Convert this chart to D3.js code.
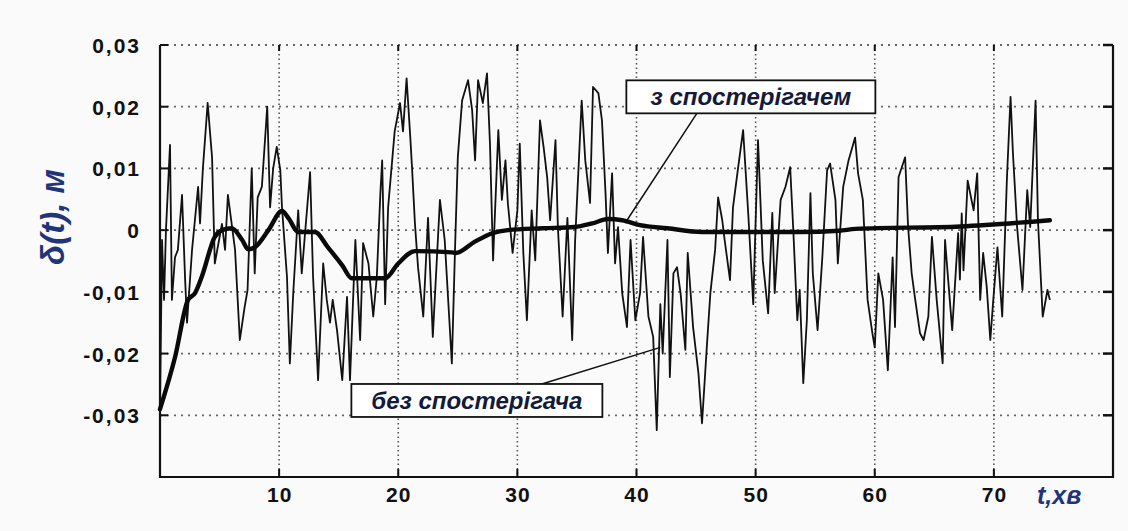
<!DOCTYPE html>
<html><head><meta charset="utf-8">
<script src="https://cdn.jsdelivr.net/npm/d3@7"></script>
<style>
html,body{margin:0;padding:0;background:#fafafa;}
svg{display:block;}
</style></head>
<body>
<svg id="chart" width="1128" height="531"></svg>
<script>
// ---- data ----
const xTicks = [10, 20, 30, 40, 50, 60, 70];
const yTicks = [0.03, 0.02, 0.01, 0, -0.01, -0.02, -0.03];
const yTickLabels = ["0,03", "0,02", "0,01", "0", "-0,01", "-0,02", "-0,03"];
const xTitle = "t,хв";
const yTitle = "δ(t), м";
const seriesNames = ["з спостерігачем", "без спостерігача"];

// smooth curve: with observer
const obsT = [0, 1.26, 2.35, 2.94, 3.5, 4.6, 5.2, 6.0, 6.9, 7.4, 8.0, 9.1, 10.25, 10.8, 11.6, 12.8, 13.0, 14.1, 15.3, 16.1, 18.9, 20.0, 21.4, 24.5, 24.8, 26.4, 27.9, 29.2, 32.1, 34.8, 36.3, 37.6, 38.8, 40.3, 42.6, 45.5, 53.7, 57.0, 58.4, 67.2, 74.7];
const obsV = [-0.029, -0.0206, -0.0113, -0.0102, -0.0076, -0.0011, 0.0, 0.0003, -0.0016, -0.0031, -0.0027, 0.0, 0.0031, 0.0019, -0.0003, -0.0003, -0.0003, -0.0028, -0.0057, -0.0078, -0.0078, -0.0054, -0.0034, -0.0036, -0.0037, -0.0019, -0.0005, 0.0, 0.0003, 0.0005, 0.0011, 0.0018, 0.0016, 0.0008, 0.0003, -0.0003, -0.0003, -0.0001, 0.0002, 0.0006, 0.0016];

// noisy curve: without observer
const rawT = [0, 0.17, 0.34, 0.5, 0.84, 1.0, 1.26, 1.5, 1.85, 2.1, 2.27, 2.69, 3.2, 3.36, 3.6, 4.0, 4.37, 4.6, 5.2, 5.46, 5.7, 6.3, 6.7, 7.1, 7.35, 7.7, 7.95, 8.2, 8.55, 9.0, 9.24, 9.5, 9.8, 10.1, 10.24, 10.66, 10.9, 11.2, 11.6, 11.9, 12.6, 12.85, 13.27,
  13.7, 14.0, 14.27, 14.5, 14.86, 15.3, 15.7, 15.95, 16.4, 16.8, 17.05, 17.5, 17.9, 18.2, 18.5, 18.65, 18.9, 19.15, 19.7, 20.15, 20.4, 20.7, 21.0, 21.16, 21.4, 21.66, 22.1, 22.5, 22.9, 23.5, 23.9, 24.5, 24.77, 25.0, 25.36, 25.86, 26.2,
  26.45, 26.7, 27.1, 27.45, 27.7, 27.96, 28.4, 28.7, 29.0, 29.2, 29.6, 30.0, 30.2, 30.5, 30.8, 31.2, 31.5, 31.9, 32.2, 32.5, 32.75, 33.2, 33.4, 33.8, 34.2, 34.6, 34.85, 35.4, 35.7, 36.1, 36.35, 36.8, 37.1, 37.4, 37.6, 37.95, 38.2, 38.45, 38.8, 39.2, 39.5, 39.9, 40.3,
  40.55, 41.0, 41.4, 41.7, 42.0, 42.2, 42.6, 42.8, 43.1, 43.4, 43.7, 44.1, 44.3, 44.75, 45.2, 45.5, 45.9, 46.2, 46.6, 46.85, 47.2, 47.4, 47.85, 48.1, 48.5, 48.95, 49.4, 49.8, 50.2, 50.6, 51.05, 51.4, 51.6, 52.1, 52.5, 52.9, 53.15, 53.5, 53.7,
  54.0, 54.3, 54.6, 54.8, 55.2, 55.6, 56.0, 56.25, 56.7, 56.9, 57.35, 57.8, 58.35, 58.6, 59.0, 59.4, 59.8, 60.0, 60.3, 60.7, 61.1, 61.5, 61.7, 62.0, 62.55, 62.8, 63.1, 63.4, 63.8, 64.1, 64.5, 64.8, 65.2, 65.7, 65.9, 66.5, 67.0,
  67.15, 67.3, 67.45, 67.8, 68.3, 68.6, 68.85, 69.1, 69.4, 69.7, 69.95, 70.3, 70.7, 71.1, 71.4, 71.6, 71.95, 72.4, 72.8, 73.05, 73.5, 73.7, 74.1, 74.5, 74.7];
const rawV = [-0.029, -0.0016, -0.0113, 0.0, 0.0138, -0.0113, -0.0044, -0.0032, 0.0057, -0.0076, -0.015, -0.0032, 0.007, 0.0011, 0.010, 0.0206, 0.0118, -0.0054, 0.001, -0.0032, 0.0057, -0.0032, -0.0178, -0.0125, -0.0097, 0.010, -0.007, 0.0053, 0.007, 0.020, 0.0037, 0.010, 0.0135, 0.0097, 0.0037, -0.0076, -0.0216, -0.0097, 0.0032, -0.007, 0.0094, -0.0076, -0.0243,
  -0.0054, -0.0113, -0.015, -0.0113, -0.0162, -0.0243, -0.0108, -0.0243, -0.0016, -0.0178, -0.0021, -0.0054, -0.014, -0.0076, 0.006, 0.0113, -0.012, 0.0037, 0.016, 0.0206, 0.016, 0.0246, 0.0154, 0.010, 0.0011, -0.006, -0.014, 0.002, -0.0173, 0.0049, -0.0016, -0.0216, -0.0028, 0.0118, 0.021, 0.0243, 0.0195,
  0.0113, 0.0243, 0.0206, 0.0254, 0.014, -0.0049, 0.0162, 0.0049, 0.0113, 0.0044, -0.0037, 0.0032, 0.014, -0.0037, -0.0146, 0.0032, -0.0049, 0.0178, 0.0135, 0.0086, 0.0016, 0.0146, 0.0005, -0.014, 0.002, -0.0178, -0.0016, 0.021, 0.0113, 0.0044, 0.0232, 0.0222, 0.0178, 0.006, -0.0037, 0.0092, -0.0054, 0.0005, -0.0102, -0.0157, -0.0016, -0.0146, -0.0102,
  -0.0011, -0.014, -0.0173, -0.0324, -0.012, -0.020, -0.0016, -0.0238, -0.007, -0.006, -0.0102, -0.0194, -0.0037, -0.0157, -0.0232, -0.0313, -0.019, -0.0102, -0.0032, 0.0053, 0.0016, -0.0016, -0.0081, 0.0037, 0.0097, 0.0162, 0.002, -0.012, 0.0146, -0.0049, -0.0135, 0.0028, -0.0102, 0.0049, 0.007, 0.0102, 0.0005, -0.0146, -0.0097,
  -0.0248, -0.0146, 0.006, -0.007, -0.0162, -0.0044, 0.0097, 0.0108, 0.0049, -0.0054, 0.007, 0.0113, 0.015, 0.0092, 0.0049, -0.0113, -0.0167, -0.019, -0.007, -0.0113, -0.0227, -0.0044, -0.0157, 0.0086, 0.0118, 0.0005, -0.007, -0.0113, -0.0167, -0.0178, -0.014, -0.0011, -0.0113, -0.0216, -0.0016, -0.0162, -0.0005,
  -0.008, 0.0027, -0.0065, 0.008, 0.0032, 0.0092, -0.0113, -0.0037, -0.0092, -0.0178, -0.0113, -0.0028, -0.014, 0.0086, 0.0216, 0.0125, 0.0005, -0.0097, 0.0065, 0.0005, 0.021, 0.0016, -0.014, -0.0097, -0.0113];

// annotation anchors (data units)
const noteBoxT = [49.6, 26.6];
const noteBoxV = [0.0216, -0.0276];
const noteTipT = [39.2, 42.0];
const noteTipV = [0.0016, -0.019];

// ---- chart ----
const svg = d3.select("#chart");
const x = d3.scaleLinear().domain([0, 80]).range([160, 1113]);
const y = d3.scaleLinear().domain([-0.04, 0.03]).range([477, 45]);
const navy = "#1f3578";
const fontNum = "'Liberation Sans', Arial, sans-serif";

const g = svg.append("g");

// horizontal grid
g.selectAll(".hg").data(yTicks).join("line")
  .attr("x1", x(0)).attr("x2", x(80))
  .attr("y1", d => y(d)).attr("y2", d => y(d))
  .attr("stroke", "#666").attr("stroke-width", 1.8)
  .attr("stroke-dasharray", "2,5");
// vertical grid
g.selectAll(".vg").data(xTicks).join("line")
  .attr("x1", d => x(d)).attr("x2", d => x(d))
  .attr("y1", y(0.03)).attr("y2", y(-0.04))
  .attr("stroke", "#555").attr("stroke-width", 1.6)
  .attr("stroke-dasharray", "1.5,3");

// inward ticks
const tk = 8;
g.selectAll(".tl").data(yTicks).join("line")
  .attr("x1", x(0)).attr("x2", x(0) + tk).attr("y1", d => y(d)).attr("y2", d => y(d))
  .attr("stroke", "#111").attr("stroke-width", 2);
g.selectAll(".tr").data(yTicks).join("line")
  .attr("x1", x(80) - 10).attr("x2", x(80)).attr("y1", d => y(d)).attr("y2", d => y(d))
  .attr("stroke", "#111").attr("stroke-width", 2.5);
g.selectAll(".tb").data(xTicks).join("line")
  .attr("x1", d => x(d)).attr("x2", d => x(d)).attr("y1", y(-0.04)).attr("y2", y(-0.04) - tk)
  .attr("stroke", "#111").attr("stroke-width", 2);
g.selectAll(".tt").data(xTicks).join("line")
  .attr("x1", d => x(d)).attr("x2", d => x(d)).attr("y1", y(0.03)).attr("y2", y(0.03) + 6)
  .attr("stroke", "#111").attr("stroke-width", 2);

// frame: left, bottom, right
g.append("path")
  .attr("d", `M${x(0)},${y(0.03)}V${y(-0.04)}H${x(80)}V${y(0.03)}`)
  .attr("fill", "none").attr("stroke", "#111").attr("stroke-width", 2.2);

// axes labels via d3 axes
const yAxis = d3.axisLeft(y).tickValues(yTicks).tickSize(0).tickPadding(0)
  .tickFormat((d, i) => yTickLabels[i]);
const ya = svg.append("g").attr("transform", "translate(141,0)").call(yAxis);
ya.select(".domain").remove();
ya.selectAll("text").attr("font-family", fontNum).attr("font-weight", "bold")
  .attr("font-size", 21).attr("fill", "#111").attr("letter-spacing", "2px").attr("dy", "0.36em");

const xAxis = d3.axisBottom(x).tickValues(xTicks).tickSize(0).tickPadding(0);
const xa = svg.append("g").attr("transform", "translate(0,487)").call(xAxis);
xa.select(".domain").remove();
xa.selectAll("text").attr("font-family", fontNum).attr("font-weight", "bold")
  .attr("font-size", 21).attr("fill", "#111").attr("letter-spacing", "1px");

// titles
svg.append("text").text(xTitle)
  .attr("x", 1037).attr("y", 504)
  .attr("font-family", fontNum).attr("font-weight", "bold").attr("font-style", "italic")
  .attr("font-size", 25).attr("fill", navy);
svg.append("text").text(yTitle)
  .attr("transform", "translate(64,217) rotate(-90)")
  .attr("text-anchor", "middle")
  .attr("font-family", fontNum).attr("font-weight", "bold").attr("font-style", "italic")
  .attr("font-size", 33).attr("fill", navy);

// series
const raw = rawT.map((t, i) => [t, rawV[i]]);
const obs = obsT.map((t, i) => [t, obsV[i]]);
const rawLine = d3.line().x(d => x(d[0])).y(d => y(d[1]));
const obsLine = d3.line().x(d => x(d[0])).y(d => y(d[1])).curve(d3.curveMonotoneX);
svg.append("path").datum(raw).attr("d", rawLine)
  .attr("fill", "none").attr("stroke", "#111").attr("stroke-width", 1.8)
  .attr("stroke-linejoin", "round");
svg.append("path").datum(obs).attr("d", obsLine)
  .attr("fill", "none").attr("stroke", "#0a0a0a").attr("stroke-width", 4.4)
  .attr("stroke-linejoin", "round").attr("stroke-linecap", "round");

// annotations
const boxW = [249, 251], boxH = 33;
seriesNames.forEach((name, i) => {
  const cx = x(noteBoxT[i]), cy = y(noteBoxV[i]);
  const edgeY = i === 0 ? cy + boxH / 2 : cy - boxH / 2;
  const startX = i === 0 ? cx - 54 : cx + 65;
  svg.append("line")
    .attr("x1", startX).attr("y1", edgeY)
    .attr("x2", x(noteTipT[i])).attr("y2", y(noteTipV[i]))
    .attr("stroke", "#111").attr("stroke-width", 1.5);
  svg.append("rect")
    .attr("x", cx - boxW[i] / 2).attr("y", cy - boxH / 2)
    .attr("width", boxW[i]).attr("height", boxH)
    .attr("fill", "#fff").attr("stroke", "#111").attr("stroke-width", 1.8);
  svg.append("text").text(name)
    .attr("x", cx).attr("y", cy).attr("dy", "0.34em")
    .attr("text-anchor", "middle")
    .attr("font-family", fontNum).attr("font-weight", "bold").attr("font-style", "italic")
    .attr("font-size", 24).attr("fill", "#141a3a");
});
</script>
</body></html>
